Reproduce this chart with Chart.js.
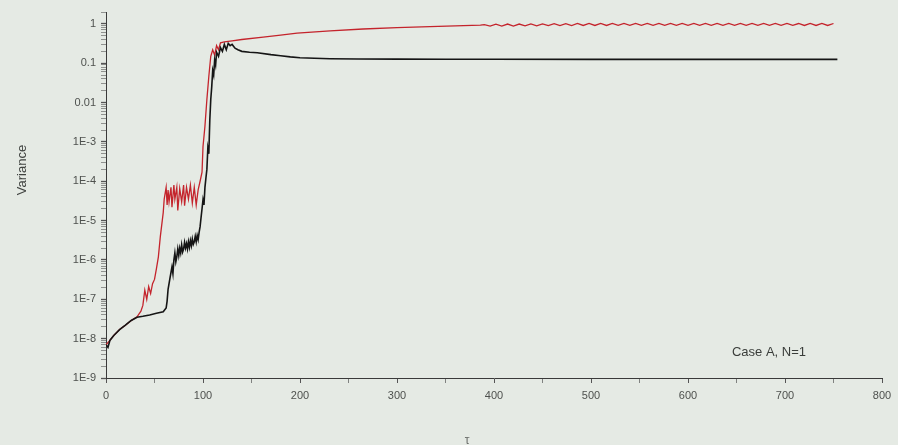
<!DOCTYPE html>
<html>
<head>
<meta charset="utf-8">
<script src="https://cdn.jsdelivr.net/npm/chart.js@4"></script>
<style>
  html, body { margin: 0; padding: 0; background: #e5eae4; }
  #wrap { width: 898px; height: 445px; position: relative; }
  canvas { filter: blur(0.5px); }
</style>
</head>
<body>
<div id="wrap"><canvas id="c" width="898" height="445"></canvas></div>
<script>
// black series (Case A, N=1)
const blackX = [0, 2, 4, 8, 14, 20, 26, 32, 38, 45, 52, 59, 62, 63, 64, 66, 68, 69, 70, 71, 72, 73, 74, 75, 76, 77, 78, 79, 80, 81, 82, 83, 84, 85, 86, 87, 88, 89, 90, 91, 92, 93, 94, 95, 96, 97, 98, 99, 100, 101, 102, 103, 104, 105, 106, 107, 108, 109, 110, 111, 112, 113, 114, 116, 118, 120, 122, 124, 126, 128, 130, 133, 136, 140, 148, 156, 170, 180, 190, 200, 215, 231, 260, 300, 350, 400, 500, 600, 700, 754];
const blackY = [7e-9, 6e-9, 9e-9, 1.2e-8, 1.7e-8, 2.2e-8, 2.9e-8, 3.5e-8, 3.7e-8, 4.0e-8, 4.4e-8, 4.8e-8, 6e-8, 9e-8, 1.8e-7, 3.5e-7, 6.6e-7, 4.5e-7, 1.0e-6, 1.5e-6, 0.9e-6, 1.2e-6, 1.9e-6, 1.3e-6, 2.0e-6, 1.5e-6, 2.4e-6, 1.6e-6, 1.9e-6, 2.8e-6, 2.0e-6, 2.6e-6, 1.9e-6, 2.9e-6, 2.1e-6, 3.1e-6, 2.3e-6, 3.4e-6, 2.5e-6, 2.9e-6, 4.0e-6, 2.9e-6, 4.2e-6, 3.3e-6, 5.0e-6, 7e-6, 1.2e-5, 2.0e-5, 3.4e-5, 2.5e-5, 7e-5, 1.2e-4, 2.0e-4, 7e-4, 5e-4, 3.5e-3, 1.2e-2, 2.5e-2, 6.5e-2, 0.05, 0.12, 0.09, 0.19, 0.15, 0.25, 0.2, 0.3, 0.22, 0.32, 0.28, 0.3, 0.24, 0.22, 0.2, 0.19, 0.185, 0.165, 0.155, 0.145, 0.138, 0.133, 0.13, 0.128, 0.127, 0.126, 0.126, 0.125, 0.125, 0.125, 0.125];

// red series
const redX = [0, 4, 8, 14, 20, 26, 32, 36, 38, 40, 42, 44, 46, 48, 50, 52, 54, 56, 58, 59, 60, 61, 62, 63, 64, 65, 67, 68, 70, 71, 73, 74, 76, 78, 80, 81, 83, 85, 87, 89, 91, 93, 95, 97, 99, 100, 102, 104, 106, 108, 110, 112, 114, 116, 118, 122, 130, 140, 162, 180, 197, 231, 265, 300, 334, 386,
  390, 396, 402, 408, 414, 420, 426, 432, 438, 444, 450, 456, 462, 468, 474, 480, 486, 492, 498, 504, 510, 516, 522, 528, 534, 540, 546, 552, 558, 564, 570, 576, 582, 588, 594, 600, 606, 612, 618, 624, 630, 636, 642, 648, 654, 660, 666, 672, 678, 684, 690, 696, 702, 708, 714, 720, 726, 732, 738, 744, 750];
const redY = [7e-9, 9e-9, 1.2e-8, 1.7e-8, 2.2e-8, 2.9e-8, 3.6e-8, 5e-8, 7e-8, 1.7e-7, 1.0e-7, 2.1e-7, 1.4e-7, 2.5e-7, 3.2e-7, 6e-7, 1.2e-6, 3.9e-6, 1.0e-5, 1.6e-5, 3.5e-5, 5e-5, 7e-5, 2.5e-5, 6e-5, 3e-5, 7e-5, 2.2e-5, 8e-5, 3.5e-5, 7e-5, 1.8e-5, 6.5e-5, 3e-5, 8e-5, 2.4e-5, 7e-5, 3.5e-5, 8e-5, 2.8e-5, 7e-5, 2.5e-5, 6e-5, 1e-4, 1.7e-4, 7.5e-4, 2.5e-3, 1.2e-2, 4.6e-2, 0.15, 0.22, 0.16, 0.28, 0.22, 0.33, 0.35, 0.37, 0.4, 0.46, 0.52, 0.58, 0.66, 0.74, 0.8, 0.85, 0.93,
  0.96, 0.88, 0.98, 0.88, 0.99, 0.88, 0.99, 0.89, 1.0, 0.89, 1.0, 0.9, 1.01, 0.9, 1.01, 0.9, 1.02, 0.91, 1.02, 0.91, 1.02, 0.91, 1.03, 0.92, 1.03, 0.92, 1.03, 0.92, 1.03, 0.92, 1.03, 0.92, 1.03, 0.92, 1.03, 0.92, 1.03, 0.92, 1.03, 0.92, 1.03, 0.92, 1.03, 0.92, 1.03, 0.92, 1.03, 0.92, 1.03, 0.92, 1.03, 0.92, 1.03, 0.92, 1.02, 0.91, 1.02, 0.91, 1.02, 0.91, 1.02];

const xTickValues = [0, 50, 100, 150, 200, 250, 300, 350, 400, 450, 500, 550, 600, 650, 700, 750, 800];
const xTickLabels = ['0', '', '100', '', '200', '', '300', '', '400', '', '500', '', '600', '', '700', '', '800'];
const yMajorValues = [1e-9, 1e-8, 1e-7, 1e-6, 1e-5, 1e-4, 1e-3, 0.01, 0.1, 1];
const yMajorLabels = ['1E-9', '1E-8', '1E-7', '1E-6', '1E-5', '1E-4', '1E-3', '0.01', '0.1', '1'];
const yMinorMultipliers = [2, 3, 4, 5, 6, 7, 8, 9];

const toPoints = (xs, ys) => xs.map((x, i) => ({ x, y: ys[i] }));

const labelFont = { family: 'Liberation Sans', size: 11 };
const tickColor = '#4e514e';

const textPlugin = {
  id: 'textPlugin',
  afterDraw(chart) {
    const { ctx } = chart;
    ctx.save();
    ctx.fillStyle = '#404340';
    ctx.font = '13px "Liberation Sans"';
    ctx.textAlign = 'center';
    ctx.textBaseline = 'middle';
    ctx.translate(22, 170);
    ctx.rotate(-Math.PI / 2);
    ctx.fillText('Variance', 0, 0);
    ctx.restore();

    ctx.save();
    ctx.fillStyle = '#3a3d3a';
    ctx.font = '13px "Liberation Sans"';
    ctx.textAlign = 'center';
    ctx.textBaseline = 'middle';
    ctx.fillText('Case A, N=1', 769, 352);
    ctx.fillStyle = '#6a6d6a';
    ctx.font = '12px "Liberation Sans"';
    ctx.fillText('τ', 467, 441);
    ctx.restore();
  },
};

new Chart(document.getElementById('c'), {
  type: 'line',
  data: {
    datasets: [
      {
        label: 'black',
        data: toPoints(blackX, blackY),
        borderColor: '#151515',
        borderWidth: 1.6,
        pointRadius: 0,
        tension: 0,
      },
      {
        label: 'red',
        data: toPoints(redX, redY),
        borderColor: '#c4242c',
        borderWidth: 1.3,
        pointRadius: 0,
        tension: 0,
      },
    ],
  },
  options: {
    responsive: false,
    animation: false,
    parsing: false,
    layout: { padding: { top: 12, right: 16, left: 0, bottom: 0 } },
    plugins: {
      legend: { display: false },
      tooltip: { enabled: false },
    },
    scales: {
      x: {
        type: 'linear',
        min: 0,
        max: 800,
        afterBuildTicks: (scale) => { scale.ticks = xTickValues.map((v) => ({ value: v })); },
        afterFit: (scale) => { scale.height = 67; },
        ticks: {
          autoSkip: false,
          maxRotation: 0,
          color: tickColor,
          font: labelFont,
          padding: 6,
          callback: (v) => xTickLabels[xTickValues.indexOf(v)] ?? '',
        },
        border: { display: true, color: '#3a3a3a', width: 1 },
        grid: {
          drawOnChartArea: false,
          drawTicks: true,
          tickLength: 5,
          tickColor: '#555',
          tickWidth: (ctx) => (ctx.tick && ctx.tick.value % 100 === 0 ? 1 : 0.7),
        },
      },
      y: {
        type: 'logarithmic',
        min: 1e-9,
        max: 2,
        afterBuildTicks: (scale) => {
          const ticks = [];
          yMajorValues.forEach((m) => {
            ticks.push({ value: m, major: true });
            yMinorMultipliers.forEach((k) => {
              if (m * k <= 2) ticks.push({ value: m * k, major: false });
            });
          });
          scale.ticks = ticks;
        },
        afterFit: (scale) => { scale.width = 106; },
        ticks: {
          autoSkip: false,
          color: tickColor,
          font: labelFont,
          padding: 5,
          callback: (v) => {
            const i = yMajorValues.findIndex((m) => Math.abs(m - v) / m < 1e-6);
            return i >= 0 ? yMajorLabels[i] : '';
          },
        },
        border: { display: true, color: '#3a3a3a', width: 1 },
        grid: {
          drawOnChartArea: false,
          drawTicks: true,
          tickLength: 5,
          tickColor: '#555',
          tickWidth: (ctx) => (ctx.tick && ctx.tick.major ? 1.3 : 0.6),
        },
      },
    },
  },
  plugins: [textPlugin],
});
</script>
</body>
</html>
